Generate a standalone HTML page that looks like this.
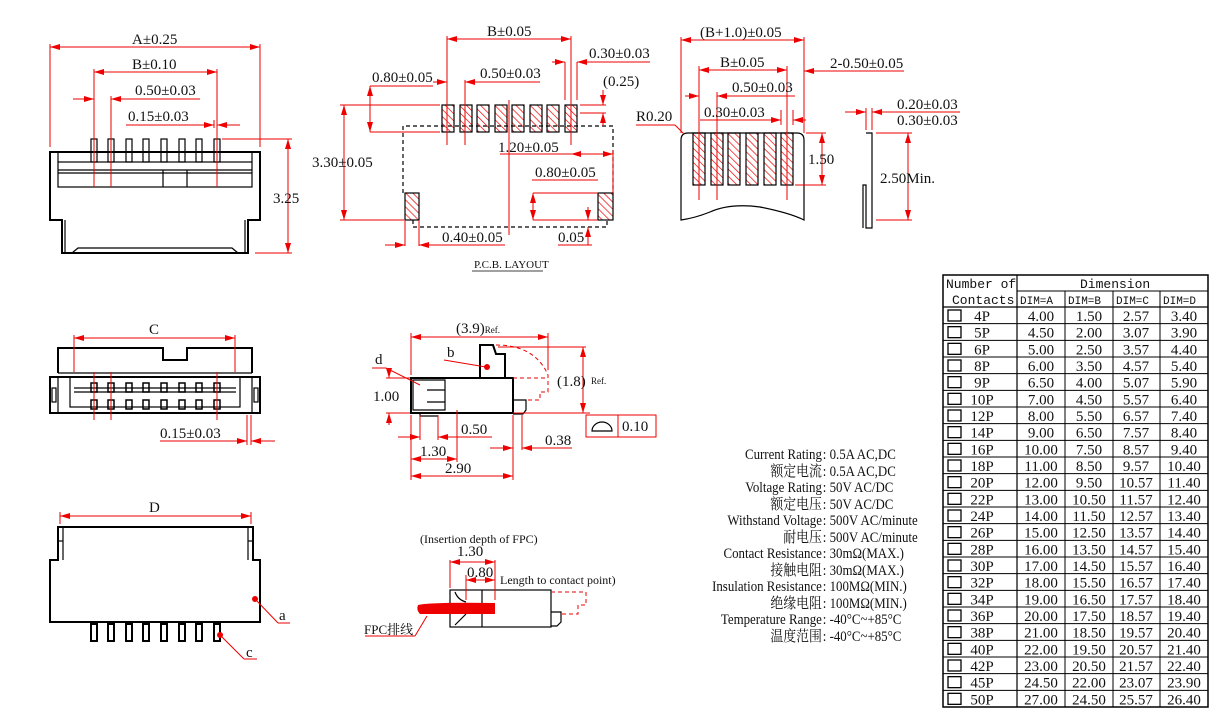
<!DOCTYPE html>
<html><head><meta charset="utf-8"><style>
html,body{margin:0;padding:0;background:#fff}
svg{display:block}
text{font-family:"Liberation Serif","Noto Serif CJK SC",serif;font-size:15px;fill:#111}
.r{stroke:#e00;stroke-width:1;fill:none}
.k{stroke:#000;stroke-width:2;fill:none}
.k1{stroke:#000;stroke-width:1.2;fill:none}
.d{stroke:#000;stroke-width:1.2;fill:none;stroke-dasharray:4 3}
.rd{stroke:#e00;stroke-width:1;fill:none;stroke-dasharray:4 3}
.m{font-family:"Liberation Mono","Noto Sans CJK SC",monospace;font-size:13px}
.tb text{font-size:15px}
</style></head><body>
<svg width="1210" height="710" viewBox="0 0 1210 710" xmlns="http://www.w3.org/2000/svg">
<defs>
<marker id="a" markerWidth="10" markerHeight="6" refX="10" refY="3" orient="auto-start-reverse"><path d="M0,0L10,3L0,6z" fill="#e00"/></marker>
<pattern id="h" width="5" height="5" patternUnits="userSpaceOnUse" patternTransform="rotate(-45)"><line x1="0" y1="0" x2="0" y2="5" stroke="#e00" stroke-width="1.4"/></pattern>
<g id="row">
<rect x="948" y="3" width="13" height="11" fill="none" stroke="#000" stroke-width="1.3"/>
<line x1="943" y1="0" x2="1208" y2="0" stroke="#000"/>
</g>
</defs>

<!-- ===== Front view top-left ===== -->
<g>
<path class="k" d="M50,152H260V220H248V253H62V220H50Z"/>
<line class="k1" x1="58" y1="152" x2="58" y2="162"/><line class="k1" x1="252" y1="152" x2="252" y2="162"/>
<rect class="k1" x="58" y="162" width="194" height="25"/>
<line class="k1" x1="58" y1="170" x2="252" y2="170"/><line class="k1" x1="58" y1="173" x2="252" y2="173"/>
<line class="k1" x1="163" y1="170" x2="163" y2="187"/><line class="k1" x1="187" y1="170" x2="187" y2="187"/>
<line class="k1" x1="62" y1="220" x2="62" y2="253"/><line class="k1" x1="65" y1="220" x2="65" y2="253"/>
<line class="k1" x1="248" y1="220" x2="248" y2="253"/><line class="k1" x1="245" y1="220" x2="245" y2="253"/>
<path class="k1" d="M72,253L78,248H232L238,253"/>
<g class="k1">
<rect x="91" y="139" width="6" height="23"/><rect x="108" y="139" width="6" height="23"/><rect x="126" y="139" width="6" height="23"/><rect x="143" y="139" width="6" height="23"/><rect x="161" y="139" width="6" height="23"/><rect x="179" y="139" width="6" height="23"/><rect x="196" y="139" width="6" height="23"/><rect x="214" y="139" width="6" height="23"/>
</g>
<line class="r" x1="50" y1="147" x2="50" y2="44"/><line class="r" x1="260" y1="147" x2="260" y2="44"/>
<line class="r" x1="50" y1="47" x2="260" y2="47" marker-start="url(#a)" marker-end="url(#a)"/>
<text x="132" y="44">A±0.25</text>
<line class="r" x1="94" y1="187" x2="94" y2="69"/><line class="r" x1="217" y1="187" x2="217" y2="69"/>
<line class="r" x1="94" y1="72" x2="217" y2="72" marker-start="url(#a)" marker-end="url(#a)"/>
<text x="132" y="69">B±0.10</text>
<line class="r" x1="111" y1="187" x2="111" y2="96"/>
<line class="r" x1="73" y1="99" x2="94" y2="99" marker-end="url(#a)"/><line class="r" x1="200" y1="99" x2="111" y2="99" marker-end="url(#a)"/>
<text x="135" y="95">0.50±0.03</text>
<line class="r" x1="214" y1="120" x2="214" y2="128"/>
<line class="r" x1="126" y1="125" x2="214" y2="125" marker-end="url(#a)"/><line class="r" x1="240" y1="125" x2="217" y2="125" marker-end="url(#a)"/>
<text x="128" y="121">0.15±0.03</text>
<line class="r" x1="222" y1="139" x2="292" y2="139"/><line class="r" x1="255" y1="253" x2="292" y2="253"/>
<line class="r" x1="288" y1="139" x2="288" y2="253" marker-start="url(#a)" marker-end="url(#a)"/>
<text x="273" y="203">3.25</text>
</g>

<!-- ===== PCB layout ===== -->
<g>
<path class="d" d="M403,193V126H613V193"/>
<path class="d" d="M413,220V227H607V220"/>
<g stroke="#000" stroke-width="1.2" fill="url(#h)">
<rect x="442" y="105" width="12" height="27"/><rect x="460" y="105" width="12" height="27"/><rect x="477" y="105" width="12" height="27"/><rect x="495" y="105" width="12" height="27"/><rect x="512" y="105" width="12" height="27"/><rect x="530" y="105" width="12" height="27"/><rect x="547" y="105" width="12" height="27"/><rect x="565" y="105" width="12" height="27"/>
<rect x="405" y="193" width="14" height="27"/><rect x="598" y="193" width="15" height="27"/>
</g>
<line class="r" x1="447" y1="145" x2="447" y2="36"/><line class="r" x1="571" y1="145" x2="571" y2="36"/>
<line class="r" x1="447" y1="39" x2="571" y2="39" marker-start="url(#a)" marker-end="url(#a)"/>
<text x="487" y="36">B±0.05</text>
<line class="r" x1="565" y1="100" x2="565" y2="62"/><line class="r" x1="577" y1="100" x2="577" y2="62"/>
<line class="r" x1="552" y1="62" x2="565" y2="62" marker-end="url(#a)"/><line class="r" x1="650" y1="62" x2="577" y2="62" marker-end="url(#a)"/>
<text x="589" y="58">0.30±0.03</text>
<line class="r" x1="465" y1="145" x2="465" y2="80"/>
<line class="r" x1="433" y1="82" x2="447" y2="82" marker-end="url(#a)"/><line class="r" x1="540" y1="82" x2="465" y2="82" marker-end="url(#a)"/>
<text x="480" y="78">0.50±0.03</text>
<text x="372" y="82">0.80±0.05</text>
<line class="r" x1="370" y1="86" x2="433" y2="86"/>
<line class="r" x1="370" y1="86" x2="370" y2="132" marker-start="url(#a)" marker-end="url(#a)"/>
<line class="r" x1="370" y1="132" x2="440" y2="132"/>
<text x="603" y="86">(0.25)</text>
<line class="r" x1="580" y1="105" x2="606" y2="105"/><line class="r" x1="580" y1="113" x2="606" y2="113"/>
<line class="r" x1="603" y1="90" x2="603" y2="105" marker-end="url(#a)"/><line class="r" x1="603" y1="126" x2="603" y2="113" marker-end="url(#a)"/>
<line class="r" x1="340" y1="105" x2="440" y2="105"/><line class="r" x1="340" y1="220" x2="404" y2="220"/>
<line class="r" x1="344" y1="105" x2="344" y2="220" marker-start="url(#a)" marker-end="url(#a)"/>
<text x="312" y="167">3.30±0.05</text>
<line class="r" x1="509" y1="100" x2="509" y2="235"/>
<text x="498" y="152">1.20±0.05</text>
<line class="r" x1="500" y1="154" x2="613" y2="154"/>
<line class="r" x1="571" y1="154" x2="613" y2="154" marker-start="url(#a)" marker-end="url(#a)"/>
<line class="r" x1="613" y1="150" x2="613" y2="193"/>
<text x="535" y="177">0.80±0.05</text>
<line class="r" x1="532" y1="180" x2="598" y2="180"/>
<line class="r" x1="533" y1="193" x2="598" y2="193"/>
<line class="r" x1="533" y1="193" x2="533" y2="220" marker-start="url(#a)" marker-end="url(#a)"/>
<line class="r" x1="533" y1="220" x2="598" y2="220"/>
<line class="r" x1="405" y1="220" x2="405" y2="246"/><line class="r" x1="419" y1="220" x2="419" y2="246"/>
<line class="r" x1="385" y1="245" x2="405" y2="245" marker-end="url(#a)"/><line class="r" x1="505" y1="245" x2="419" y2="245" marker-end="url(#a)"/>
<text x="442" y="242">0.40±0.05</text>
<line class="r" x1="588" y1="207" x2="588" y2="220" marker-end="url(#a)"/>
<line class="r" x1="588" y1="245" x2="588" y2="227" marker-end="url(#a)"/>
<line class="r" x1="558" y1="245" x2="592" y2="245"/>
<text x="558" y="242">0.05</text>
<text x="474" y="268" style="font-size:11px">P.C.B. LAYOUT</text>
<line x1="472" y1="271" x2="543" y2="271" stroke="#000" stroke-width="0.8"/>
</g>

<!-- ===== FPC ===== -->
<g>
<path class="k1" d="M681,220V140Q681,133 688,133H797Q804,133 804,140V220Q790,213 760,207Q730,203 710,212Q695,218 681,220Z"/>
<g stroke="#000" stroke-width="1.2" fill="url(#h)">
<rect x="693" y="133" width="12" height="52"/><rect x="711" y="133" width="12" height="52"/><rect x="728" y="133" width="12" height="52"/><rect x="746" y="133" width="12" height="52"/><rect x="764" y="133" width="12" height="52"/><rect x="781" y="133" width="12" height="52"/>
</g>
<line class="r" x1="681" y1="133" x2="681" y2="37"/><line class="r" x1="804" y1="133" x2="804" y2="37"/>
<line class="r" x1="681" y1="40" x2="804" y2="40" marker-start="url(#a)" marker-end="url(#a)"/>
<text x="700" y="37">(B+1.0)±0.05</text>
<line class="r" x1="699" y1="200" x2="699" y2="66"/><line class="r" x1="787" y1="200" x2="787" y2="66"/>
<line class="r" x1="699" y1="70" x2="787" y2="70" marker-start="url(#a)" marker-end="url(#a)"/>
<text x="720" y="67">B±0.05</text>
<line class="r" x1="717" y1="200" x2="717" y2="92"/>
<line class="r" x1="685" y1="96" x2="699" y2="96" marker-end="url(#a)"/><line class="r" x1="795" y1="96" x2="717" y2="96" marker-end="url(#a)"/>
<text x="732" y="92">0.50±0.03</text>
<line class="r" x1="781" y1="110" x2="781" y2="125"/><line class="r" x1="793" y1="110" x2="793" y2="125"/>
<line class="r" x1="700" y1="120" x2="781" y2="120" marker-end="url(#a)"/><line class="r" x1="806" y1="120" x2="793" y2="120" marker-end="url(#a)"/>
<text x="704" y="117">0.30±0.03</text>
<text x="636" y="121">R0.20</text>
<line class="r" x1="636" y1="125" x2="675" y2="125"/><line class="r" x1="675" y1="125" x2="684" y2="134"/>
<line class="r" x1="904" y1="71" x2="804" y2="71" marker-end="url(#a)"/>
<text x="830" y="68">2-0.50±0.05</text>
<line class="r" x1="806" y1="133" x2="826" y2="133"/><line class="r" x1="795" y1="185" x2="826" y2="185"/>
<line class="r" x1="822" y1="133" x2="822" y2="185" marker-start="url(#a)" marker-end="url(#a)"/>
<text x="808" y="164">1.50</text>
<path class="k1" d="M866,133H872V228H866V185H863V228"/>
<line class="r" x1="866" y1="108" x2="866" y2="130"/><line class="r" x1="872" y1="108" x2="872" y2="130"/>
<line class="r" x1="845" y1="112" x2="866" y2="112" marker-end="url(#a)"/><line class="r" x1="960" y1="112" x2="872" y2="112" marker-end="url(#a)"/>
<text x="897" y="109">0.20±0.03</text>
<text x="897" y="125">0.30±0.03</text>
<line class="r" x1="876" y1="133" x2="912" y2="133"/><line class="r" x1="876" y1="220" x2="912" y2="220"/>
<line class="r" x1="908" y1="133" x2="908" y2="220" marker-start="url(#a)" marker-end="url(#a)"/>
<text x="880" y="183">2.50Min.</text>
</g>

<!-- ===== C view ===== -->
<g>
<path class="k" d="M58,373V348H163V360H187V348H252V373"/>
<rect class="k" x="50" y="377" width="210" height="36"/>
<path class="k1" d="M58,373H252"/>
<rect class="k1" x="58" y="377" width="194" height="36"/>
<rect class="k1" x="70" y="377" width="170" height="30"/>
<line class="k1" x1="74" y1="388" x2="236" y2="388"/><line class="k1" x1="74" y1="392" x2="236" y2="392"/>
<rect class="k1" x="52" y="388" width="4" height="14"/><rect class="k1" x="254" y="388" width="4" height="14"/>
<g fill="none" stroke="#000" stroke-width="1.5">
<rect x="91" y="383" width="6" height="9"/><rect x="108" y="383" width="6" height="9"/><rect x="126" y="383" width="6" height="9"/><rect x="143" y="383" width="6" height="9"/><rect x="161" y="383" width="6" height="9"/><rect x="179" y="383" width="6" height="9"/><rect x="196" y="383" width="6" height="9"/><rect x="214" y="383" width="6" height="9"/>
<rect x="91" y="400" width="6" height="9"/><rect x="108" y="400" width="6" height="9"/><rect x="126" y="400" width="6" height="9"/><rect x="143" y="400" width="6" height="9"/><rect x="161" y="400" width="6" height="9"/><rect x="179" y="400" width="6" height="9"/><rect x="196" y="400" width="6" height="9"/><rect x="214" y="400" width="6" height="9"/>
</g>
<line class="r" x1="94" y1="372" x2="94" y2="420"/><line class="r" x1="111" y1="372" x2="111" y2="420"/><line class="r" x1="217" y1="372" x2="217" y2="420"/>
<line class="r" x1="74" y1="372" x2="74" y2="335"/><line class="r" x1="235" y1="372" x2="235" y2="335"/>
<line class="r" x1="74" y1="338" x2="235" y2="338" marker-start="url(#a)" marker-end="url(#a)"/>
<text x="149" y="334">C</text>
<line class="r" x1="247" y1="415" x2="247" y2="445"/><line class="r" x1="251" y1="415" x2="251" y2="445"/>
<line class="r" x1="160" y1="441" x2="247" y2="441" marker-end="url(#a)"/><line class="r" x1="275" y1="441" x2="251" y2="441" marker-end="url(#a)"/>
<text x="160" y="438">0.15±0.03</text>
</g>

<!-- ===== D view ===== -->
<g>
<path class="k" d="M58,560V527H253V560H260V622H50V560Z"/>
<line class="k1" x1="63" y1="527" x2="63" y2="560"/><line class="k1" x1="248" y1="527" x2="248" y2="560"/>
<line class="k1" x1="58" y1="541" x2="63" y2="541"/><line class="k1" x1="248" y1="541" x2="253" y2="541"/>
<g fill="#fff" stroke="#000" stroke-width="2">
<rect x="91" y="624" width="6" height="17"/><rect x="108" y="624" width="6" height="17"/><rect x="126" y="624" width="6" height="17"/><rect x="143" y="624" width="6" height="17"/><rect x="161" y="624" width="6" height="17"/><rect x="179" y="624" width="6" height="17"/><rect x="196" y="624" width="6" height="17"/><rect x="214" y="624" width="6" height="17"/>
</g>
<line class="r" x1="60" y1="524" x2="60" y2="512"/><line class="r" x1="251" y1="524" x2="251" y2="512"/>
<line class="r" x1="60" y1="516" x2="251" y2="516" marker-start="url(#a)" marker-end="url(#a)"/>
<text x="149" y="512">D</text>
<circle cx="255" cy="599" r="3" fill="#e00"/><line class="r" x1="255" y1="599" x2="278" y2="623"/><line class="r" x1="278" y1="623" x2="290" y2="623"/>
<text x="279" y="620">a</text>
<circle cx="220" cy="635" r="3" fill="#e00"/><line class="r" x1="220" y1="635" x2="244" y2="659"/><line class="r" x1="244" y1="659" x2="257" y2="659"/>
<text x="246" y="657">c</text>
</g>

<!-- ===== Side view ===== -->
<g>
<rect class="k" x="411" y="378" width="102" height="35"/>
<path class="k" d="M480,378V345H493L496,354H505V378"/>
<path class="k1" d="M413,380H445V410H413Z M427,390H445V402H427 M420,413V416H438"/>
<path class="k1" d="M513,400H526V410L523,414H513"/>
<path class="rd" d="M496,345Q535,345 548,375V392H540V400H526"/>
<path class="rd" d="M513,378H548"/>
<line class="r" x1="411" y1="375" x2="411" y2="333"/><line class="r" x1="548" y1="370" x2="548" y2="333"/>
<line class="r" x1="411" y1="337" x2="548" y2="337" marker-start="url(#a)" marker-end="url(#a)"/>
<text x="456" y="333">(3.9)<tspan style="font-size:9px">Ref.</tspan></text>
<text x="447" y="357">b</text>
<line class="r" x1="444" y1="360" x2="486" y2="367"/><circle cx="487" cy="367" r="3" fill="#e00"/>
<text x="375" y="364">d</text>
<line class="r" x1="372" y1="368" x2="386" y2="368"/><line class="r" x1="386" y1="368" x2="420" y2="385"/>
<line class="r" x1="498" y1="347" x2="586" y2="347"/><line class="r" x1="513" y1="413" x2="590" y2="413"/>
<line class="r" x1="583" y1="347" x2="583" y2="413" marker-start="url(#a)" marker-end="url(#a)"/>
<text x="557" y="386">(1.8)</text><text x="591" y="384" style="font-size:9px">Ref.</text>
<line class="r" x1="386" y1="378" x2="410" y2="378"/><line class="r" x1="386" y1="413" x2="410" y2="413"/>
<line class="r" x1="389" y1="368" x2="389" y2="378" marker-end="url(#a)"/><line class="r" x1="389" y1="425" x2="389" y2="413" marker-end="url(#a)"/>
<text x="373" y="401">1.00</text>
<rect class="r" x="586" y="415" width="70" height="22"/><line class="r" x1="618" y1="415" x2="618" y2="437"/>
<path d="M592,431A10,9 0 0 1 612,431Z" fill="none" stroke="#000" stroke-width="1.2"/>
<text x="622" y="431">0.10</text>
<line class="r" x1="411" y1="415" x2="411" y2="480"/><line class="r" x1="420" y1="415" x2="420" y2="440"/>
<line class="r" x1="438" y1="415" x2="438" y2="440"/><line class="r" x1="457" y1="410" x2="457" y2="462"/>
<line class="r" x1="513" y1="415" x2="513" y2="480"/><line class="r" x1="522" y1="415" x2="522" y2="450"/>
<line class="r" x1="398" y1="437" x2="420" y2="437" marker-end="url(#a)"/>
<line class="r" x1="492" y1="437" x2="438" y2="437" marker-end="url(#a)"/>
<text x="461" y="434">0.50</text>
<line class="r" x1="490" y1="448" x2="513" y2="448" marker-end="url(#a)"/><line class="r" x1="572" y1="448" x2="522" y2="448" marker-end="url(#a)"/>
<text x="545" y="445">0.38</text>
<line class="r" x1="411" y1="459" x2="457" y2="459" marker-start="url(#a)" marker-end="url(#a)"/>
<text x="420" y="456">1.30</text>
<line class="r" x1="411" y1="476" x2="513" y2="476" marker-start="url(#a)" marker-end="url(#a)"/>
<text x="445" y="473">2.90</text>
</g>

<!-- ===== Insertion view ===== -->
<g>
<rect class="k1" x="450" y="590" width="101" height="37" stroke-width="1.5"/>
<line class="k1" x1="482" y1="590" x2="482" y2="627"/>
<path class="k1" d="M455,592Q458,600 466,602 M455,625L466,614"/>
<path class="k1" d="M551,612H561V622L557,626H551"/>
<path class="rd" d="M551,592H586V605H578V614H561"/>
<path d="M418,605Q430,602 495,603V614H420Q416,610 418,605Z" fill="#e00"/>
<line class="r" x1="427" y1="616" x2="415" y2="636"/><line class="r" x1="415" y1="636" x2="365" y2="636"/>
<text x="364" y="634" style="font-size:13px">FPC排线</text>
<text x="420" y="543" style="font-size:12px">(Insertion depth of FPC)</text>
<text x="457" y="556">1.30</text>
<line class="r" x1="450" y1="560" x2="450" y2="588"/><line class="r" x1="495" y1="560" x2="495" y2="600"/>
<line class="r" x1="450" y1="562" x2="495" y2="562" marker-start="url(#a)" marker-end="url(#a)"/>
<text x="467" y="577">0.80</text>
<line class="r" x1="466" y1="575" x2="466" y2="600"/>
<line class="r" x1="466" y1="580" x2="495" y2="580" marker-start="url(#a)" marker-end="url(#a)"/>
<text x="500" y="584" style="font-size:12px">Length to contact point)</text>
</g>

<!-- ===== Specs ===== -->
<g transform="translate(115,0) scale(0.86,1)" style="font-size:14px">
<text x="822" y="459" text-anchor="end">Current Rating</text><text x="823" y="459">: 0.5A AC,DC</text>
<text x="822" y="476" text-anchor="end">额定电流</text><text x="823" y="476">: 0.5A AC,DC</text>
<text x="822" y="492" text-anchor="end">Voltage Rating</text><text x="823" y="492">: 50V AC/DC</text>
<text x="822" y="509" text-anchor="end">额定电压</text><text x="823" y="509">: 50V AC/DC</text>
<text x="822" y="525" text-anchor="end">Withstand Voltage</text><text x="823" y="525">: 500V AC/minute</text>
<text x="822" y="542" text-anchor="end">耐电压</text><text x="823" y="542">: 500V AC/minute</text>
<text x="822" y="558" text-anchor="end">Contact Resistance</text><text x="823" y="558">: 30mΩ(MAX.)</text>
<text x="822" y="575" text-anchor="end">接触电阻</text><text x="823" y="575">: 30mΩ(MAX.)</text>
<text x="822" y="591" text-anchor="end">Insulation Resistance</text><text x="823" y="591">: 100MΩ(MIN.)</text>
<text x="822" y="608" text-anchor="end">绝缘电阻</text><text x="823" y="608">: 100MΩ(MIN.)</text>
<text x="822" y="624" text-anchor="end">Temperature Range</text><text x="823" y="624">: -40°C~+85°C</text>
<text x="822" y="641" text-anchor="end">温度范围</text><text x="823" y="641">: -40°C~+85°C</text>
</g>

<!-- ===== Table ===== -->
<g>
<rect x="943" y="275" width="265" height="432" fill="none" stroke="#000" stroke-width="1.5"/>
<line x1="1017" y1="275" x2="1017" y2="707" stroke="#000" stroke-width="1.2"/>
<line x1="1017" y1="291" x2="1208" y2="291" stroke="#000"/>
<line x1="943" y1="307" x2="1208" y2="307" stroke="#000" stroke-width="1.2"/>
<line x1="1065" y1="291" x2="1065" y2="707" stroke="#000"/>
<line x1="1113" y1="291" x2="1113" y2="707" stroke="#000"/>
<line x1="1160" y1="291" x2="1160" y2="707" stroke="#000"/>
<text x="946" y="288" class="m">Number of</text>
<text x="952" y="304" class="m">Contacts</text>
<text x="1080" y="288" class="m">Dimension</text>
<text x="1020" y="304" class="m" style="font-size:11px">DIM=A</text>
<text x="1068" y="304" class="m" style="font-size:11px">DIM=B</text>
<text x="1116" y="304" class="m" style="font-size:11px">DIM=C</text>
<text x="1163" y="304" class="m" style="font-size:11px">DIM=D</text>
</g>
<g class="tb" text-anchor="middle">
<g transform="translate(0,307)"><use href="#row"/><text x="982" y="14">4P</text><text x="1041" y="14">4.00</text><text x="1089" y="14">1.50</text><text x="1136" y="14">2.57</text><text x="1184" y="14">3.40</text></g>
<g transform="translate(0,323.67)"><use href="#row"/><text x="982" y="14">5P</text><text x="1041" y="14">4.50</text><text x="1089" y="14">2.00</text><text x="1136" y="14">3.07</text><text x="1184" y="14">3.90</text></g>
<g transform="translate(0,340.33)"><use href="#row"/><text x="982" y="14">6P</text><text x="1041" y="14">5.00</text><text x="1089" y="14">2.50</text><text x="1136" y="14">3.57</text><text x="1184" y="14">4.40</text></g>
<g transform="translate(0,357)"><use href="#row"/><text x="982" y="14">8P</text><text x="1041" y="14">6.00</text><text x="1089" y="14">3.50</text><text x="1136" y="14">4.57</text><text x="1184" y="14">5.40</text></g>
<g transform="translate(0,373.67)"><use href="#row"/><text x="982" y="14">9P</text><text x="1041" y="14">6.50</text><text x="1089" y="14">4.00</text><text x="1136" y="14">5.07</text><text x="1184" y="14">5.90</text></g>
<g transform="translate(0,390.33)"><use href="#row"/><text x="982" y="14">10P</text><text x="1041" y="14">7.00</text><text x="1089" y="14">4.50</text><text x="1136" y="14">5.57</text><text x="1184" y="14">6.40</text></g>
<g transform="translate(0,407)"><use href="#row"/><text x="982" y="14">12P</text><text x="1041" y="14">8.00</text><text x="1089" y="14">5.50</text><text x="1136" y="14">6.57</text><text x="1184" y="14">7.40</text></g>
<g transform="translate(0,423.67)"><use href="#row"/><text x="982" y="14">14P</text><text x="1041" y="14">9.00</text><text x="1089" y="14">6.50</text><text x="1136" y="14">7.57</text><text x="1184" y="14">8.40</text></g>
<g transform="translate(0,440.33)"><use href="#row"/><text x="982" y="14">16P</text><text x="1041" y="14">10.00</text><text x="1089" y="14">7.50</text><text x="1136" y="14">8.57</text><text x="1184" y="14">9.40</text></g>
<g transform="translate(0,457)"><use href="#row"/><text x="982" y="14">18P</text><text x="1041" y="14">11.00</text><text x="1089" y="14">8.50</text><text x="1136" y="14">9.57</text><text x="1184" y="14">10.40</text></g>
<g transform="translate(0,473.67)"><use href="#row"/><text x="982" y="14">20P</text><text x="1041" y="14">12.00</text><text x="1089" y="14">9.50</text><text x="1136" y="14">10.57</text><text x="1184" y="14">11.40</text></g>
<g transform="translate(0,490.33)"><use href="#row"/><text x="982" y="14">22P</text><text x="1041" y="14">13.00</text><text x="1089" y="14">10.50</text><text x="1136" y="14">11.57</text><text x="1184" y="14">12.40</text></g>
<g transform="translate(0,507)"><use href="#row"/><text x="982" y="14">24P</text><text x="1041" y="14">14.00</text><text x="1089" y="14">11.50</text><text x="1136" y="14">12.57</text><text x="1184" y="14">13.40</text></g>
<g transform="translate(0,523.67)"><use href="#row"/><text x="982" y="14">26P</text><text x="1041" y="14">15.00</text><text x="1089" y="14">12.50</text><text x="1136" y="14">13.57</text><text x="1184" y="14">14.40</text></g>
<g transform="translate(0,540.33)"><use href="#row"/><text x="982" y="14">28P</text><text x="1041" y="14">16.00</text><text x="1089" y="14">13.50</text><text x="1136" y="14">14.57</text><text x="1184" y="14">15.40</text></g>
<g transform="translate(0,557)"><use href="#row"/><text x="982" y="14">30P</text><text x="1041" y="14">17.00</text><text x="1089" y="14">14.50</text><text x="1136" y="14">15.57</text><text x="1184" y="14">16.40</text></g>
<g transform="translate(0,573.67)"><use href="#row"/><text x="982" y="14">32P</text><text x="1041" y="14">18.00</text><text x="1089" y="14">15.50</text><text x="1136" y="14">16.57</text><text x="1184" y="14">17.40</text></g>
<g transform="translate(0,590.33)"><use href="#row"/><text x="982" y="14">34P</text><text x="1041" y="14">19.00</text><text x="1089" y="14">16.50</text><text x="1136" y="14">17.57</text><text x="1184" y="14">18.40</text></g>
<g transform="translate(0,607)"><use href="#row"/><text x="982" y="14">36P</text><text x="1041" y="14">20.00</text><text x="1089" y="14">17.50</text><text x="1136" y="14">18.57</text><text x="1184" y="14">19.40</text></g>
<g transform="translate(0,623.67)"><use href="#row"/><text x="982" y="14">38P</text><text x="1041" y="14">21.00</text><text x="1089" y="14">18.50</text><text x="1136" y="14">19.57</text><text x="1184" y="14">20.40</text></g>
<g transform="translate(0,640.33)"><use href="#row"/><text x="982" y="14">40P</text><text x="1041" y="14">22.00</text><text x="1089" y="14">19.50</text><text x="1136" y="14">20.57</text><text x="1184" y="14">21.40</text></g>
<g transform="translate(0,657)"><use href="#row"/><text x="982" y="14">42P</text><text x="1041" y="14">23.00</text><text x="1089" y="14">20.50</text><text x="1136" y="14">21.57</text><text x="1184" y="14">22.40</text></g>
<g transform="translate(0,673.67)"><use href="#row"/><text x="982" y="14">45P</text><text x="1041" y="14">24.50</text><text x="1089" y="14">22.00</text><text x="1136" y="14">23.07</text><text x="1184" y="14">23.90</text></g>
<g transform="translate(0,690.33)"><use href="#row"/><text x="982" y="14">50P</text><text x="1041" y="14">27.00</text><text x="1089" y="14">24.50</text><text x="1136" y="14">25.57</text><text x="1184" y="14">26.40</text></g>
</g>
</svg>
</body></html>
